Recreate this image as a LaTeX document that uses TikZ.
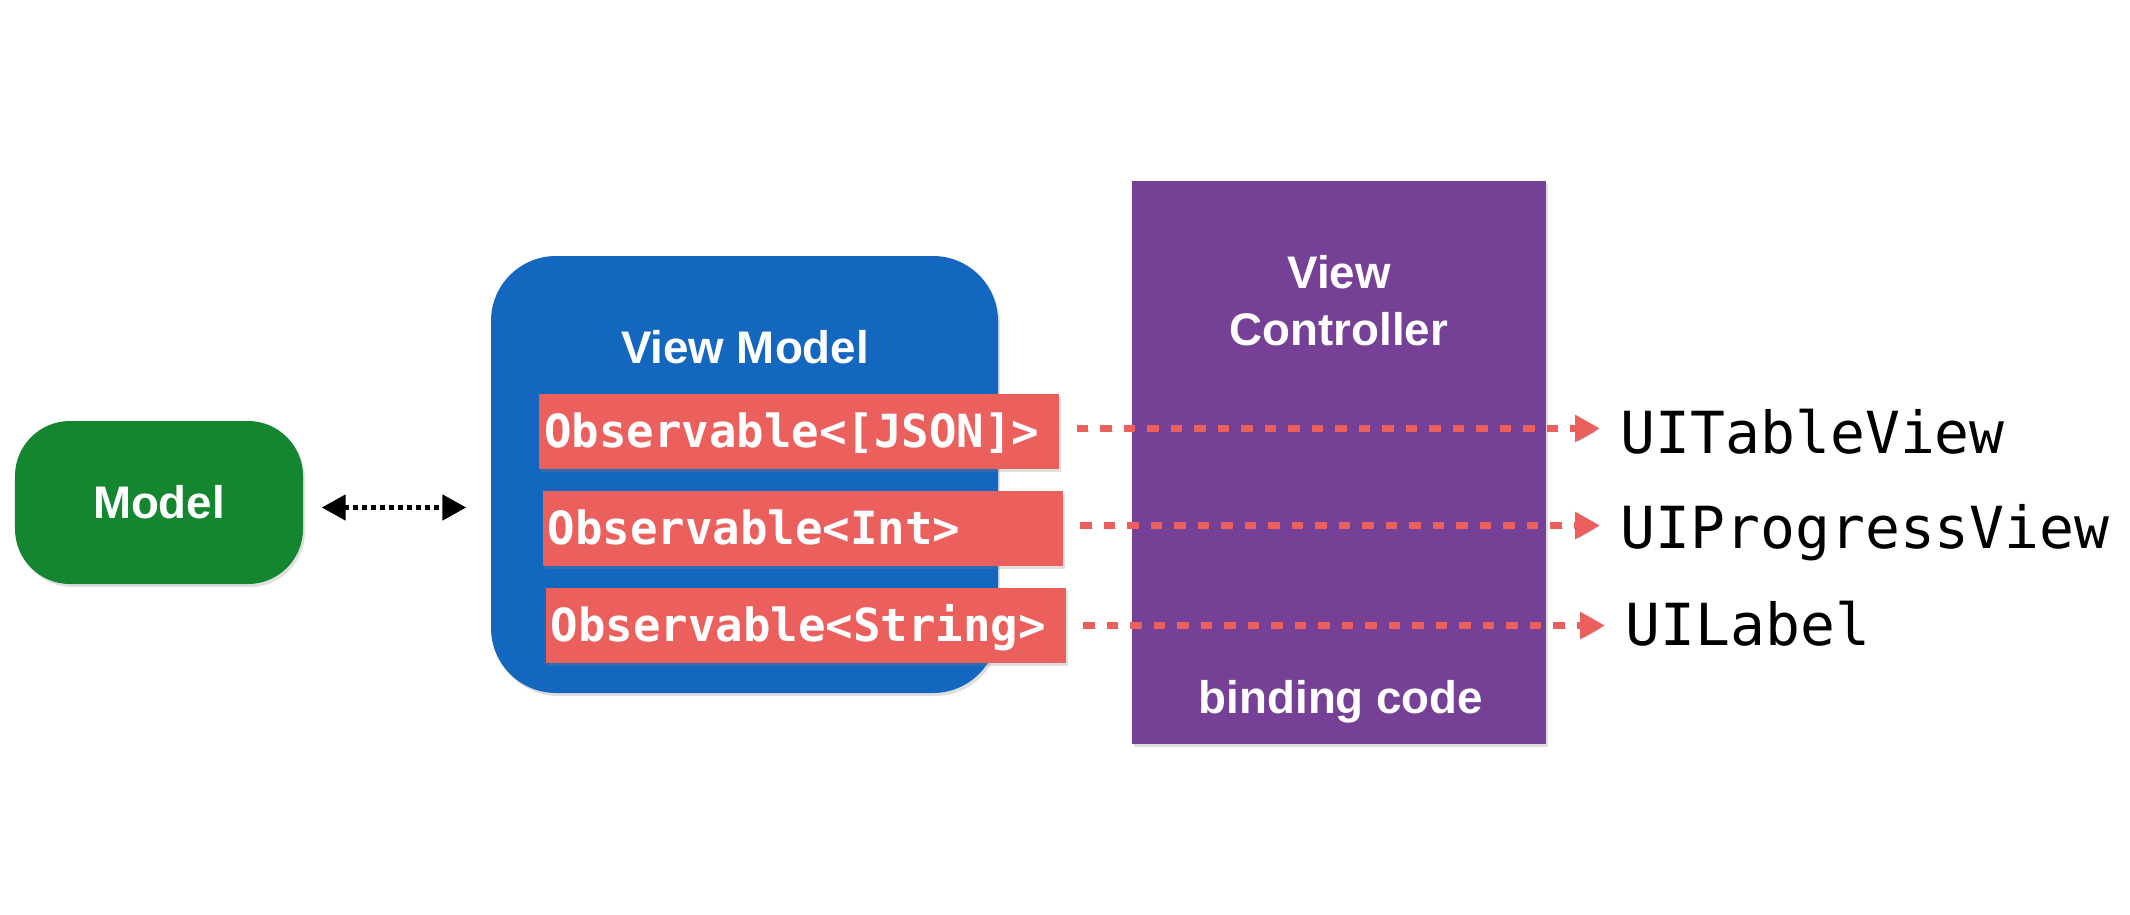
\documentclass[tikz,border=0pt]{standalone}
\usepackage{fontspec}
\setmainfont{Liberation Sans}
\newfontfamily\codefont{DejaVu Sans Mono}
\usetikzlibrary{arrows.meta,shadows,positioning}
\definecolor{modelgreen}{HTML}{158630}
\definecolor{vmblue}{HTML}{1467BE}
\definecolor{obsred}{HTML}{EB605D}
\definecolor{vcpurple}{HTML}{764097}
\tikzset{
	boxshadow/.style={drop shadow={opacity=0.25,shadow xshift=0.02cm,shadow yshift=-0.03cm}},
	boxtitle/.style={text=white,inner sep=0pt,font=\fontsize{13}{16.2}\selectfont\bfseries},
	obsbox/.style={fill=obsred,text=white,boxshadow,minimum height=0.75cm,text width=5.1cm,
		inner xsep=0.05cm,inner ysep=0pt,text height=0.32cm,text depth=0cm,align=left,
		font=\codefont\fontsize{13}{15}\selectfont\bfseries},
	uilabel/.style={inner sep=0pt,anchor=base west,font=\codefont\fontsize{16.5}{18}\selectfont},
	bindarrow/.style={draw=obsred,line width=0.062cm,dash pattern=on 0.115cm off 0.12cm,
		-{Triangle[length=0.25cm,width=0.26cm]},shorten <=0.17cm,shorten >=0.2cm,
		preaction={draw=black,opacity=0.22,dash pattern=on 0.115cm off 0.12cm,
			transform canvas={xshift=0.01cm,yshift=-0.03cm}}},
	modelarrow/.style={line width=0.05cm,dash pattern=on 0.05cm off 0.04cm,
		{Triangle[length=0.24cm,width=0.25cm]}-{Triangle[length=0.24cm,width=0.25cm]},
		shorten <=0.18cm,shorten >=0.24cm}
}
\begin{document}
\begin{tikzpicture}
	\useasboundingbox (0,0) rectangle (21.3,9.14);
	\node[fill=modelgreen,rounded corners=0.55cm,minimum width=2.88cm,minimum height=1.63cm,boxshadow,boxtitle] (m) at (1.59,4.115) {Model};
	\node[fill=vmblue,rounded corners=0.65cm,minimum width=5.07cm,minimum height=4.37cm,boxshadow] (vm) at (7.445,4.395) {};
	\node[boxtitle,anchor=base] (vmt) at (7.45,5.51) {View Model};
	\node[obsbox] (r1) at (7.99,4.825) {Observable<[JSON]>};
	\node[obsbox] (r2) at (8.025,3.855) {Observable<Int>};
	\node[obsbox] (r3) at (8.055,2.885) {Observable<String>};
	\node[fill=vcpurple,minimum width=4.14cm,minimum height=5.63cm,boxshadow] (vc) at (13.39,4.515) {};
	\node[boxtitle,align=center] (vct) at (13.39,6.13) {View\\Controller};
	\node[boxtitle,anchor=base] (vcb) at (13.41,2.01) {binding code};
	\node[uilabel] (t1) at (16.20,4.61) {UITableView};
	\node[uilabel] (t2) at (16.20,3.66) {UIProgressView};
	\node[uilabel] (t3) at (16.25,2.69) {UILabel};
	\draw[modelarrow] ([yshift=-0.05cm]m.east) -- ([yshift=-0.05cm]m.east -| vm.west);
	\draw[bindarrow] ([yshift=0.03cm]r1.east) -- ([yshift=0.03cm]r1.east -| t1.west);
	\draw[bindarrow] ([yshift=0.03cm]r2.east) -- ([yshift=0.03cm]r2.east -| t2.west);
	\draw[bindarrow] (r3.east) -- (r3.east -| t3.west);
\end{tikzpicture}
\end{document}
